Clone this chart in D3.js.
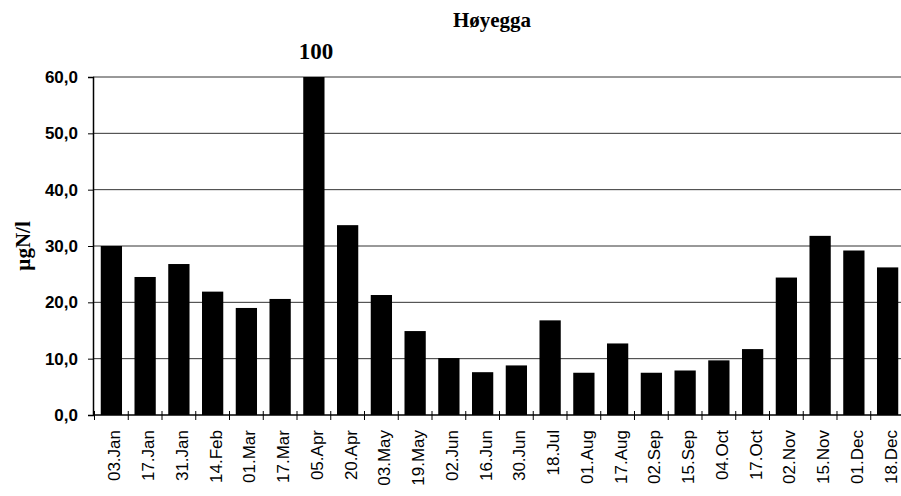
<!DOCTYPE html>
<html>
<head>
<meta charset="utf-8">
<script src="https://cdn.jsdelivr.net/npm/d3@7"></script>
<style>
  body { margin: 0; background: #fff; }
</style>
</head>
<body>
<div id="chart"></div>
<script>
const dates = ['03.Jan', '17.Jan', '31.Jan', '14.Feb', '01.Mar', '17.Mar', '05.Apr', '20.Apr',
    '03.May', '19.May', '02.Jun', '16.Jun', '30.Jun', '18.Jul', '01.Aug', '17.Aug',
    '02.Sep', '15.Sep', '04.Oct', '17.Oct', '02.Nov', '15.Nov', '01.Dec', '18.Dec']
const values = [30.0, 24.5, 26.8, 21.9, 19.0, 20.6, 100, 33.7,
    21.3, 14.9, 10.1, 7.6, 8.8, 16.8, 7.5, 12.7,
    7.5, 7.9, 9.7, 11.7, 24.4, 31.8, 29.2, 26.2]
const yTicks = [0, 10, 20, 30, 40, 50, 60]
const yMaxShown = 60

var margin = { top: 77, right: 0, bottom: 81, left: 93 },
    width = 812,
    height = 338;

var svg = d3.select('#chart').append('svg')
    .attr('width', 901)
    .attr('height', 496)
    .append('g')
    .attr('transform', 'translate(' + margin.left + ',' + margin.top + ')');

var x = d3.scaleBand().domain(dates).range([1, width]).paddingInner(0.37).paddingOuter(0.2);
var y = d3.scaleLinear().domain([0, yMaxShown]).range([height, 0]);

// gridlines
svg.append('g').selectAll('line')
    .data(yTicks.filter(d => d > 0))
    .enter().append('line')
    .attr('x1', 0).attr('x2', width)
    .attr('y1', d => y(d)).attr('y2', d => y(d))
    .attr('stroke', '#333').attr('stroke-width', 1);

// bars (clipped at the top of the axis)
svg.selectAll('.bar')
    .data(values)
    .enter().append('rect')
    .attr('x', (d, i) => x(dates[i]))
    .attr('y', d => y(Math.min(d, yMaxShown)))
    .attr('width', x.bandwidth())
    .attr('height', d => height - y(Math.min(d, yMaxShown)))
    .attr('fill', '#000');

// label for the value off the scale
values.forEach(function (d, i) {
    if (d > yMaxShown) {
        svg.append('text')
            .attr('x', x(dates[i]) + x.bandwidth() / 2 + 2)
            .attr('y', -18)
            .attr('text-anchor', 'middle')
            .attr('font-family', 'Liberation Serif, serif')
            .attr('font-weight', 'bold')
            .attr('font-size', '23px')
            .text(d);
    }
});

// y axis
var yAxis = svg.append('g')
    .call(d3.axisLeft(y).tickValues(yTicks).tickSize(5).tickPadding(10)
        .tickFormat(d => d3.format('.1f')(d).replace('.', ',')));
yAxis.select('.domain').attr('stroke', '#000').attr('stroke-width', 1.5);
yAxis.selectAll('text')
    .attr('font-family', 'Liberation Sans, Arial, sans-serif')
    .attr('font-weight', 'bold')
    .attr('font-size', '17px')
    .attr('fill', '#000');

// x axis: ticks between categories
var step = x.step();
var bounds = d3.range(dates.length + 1).map(i => x(dates[0]) - step * x.paddingInner() / 2 + i * step);
var xAxis = svg.append('g').attr('transform', 'translate(0,' + height + ')');
xAxis.append('line')
    .attr('x1', 0).attr('x2', width)
    .attr('stroke', '#000').attr('stroke-width', 1.5);
xAxis.selectAll('.tk')
    .data(bounds)
    .enter().append('line')
    .attr('x1', d => d).attr('x2', d => d)
    .attr('y1', -4).attr('y2', 5)
    .attr('stroke', '#000');
xAxis.selectAll('.lbl')
    .data(dates)
    .enter().append('text')
    .attr('transform', d => 'translate(' + (x(d) + x.bandwidth() / 2 + 9) + ',15) rotate(-90)')
    .attr('text-anchor', 'end')
    .attr('font-family', 'Liberation Sans, Arial, sans-serif')
    .attr('font-size', '17px')
    .attr('fill', '#000')
    .text(d => d);

// title
svg.append('text')
    .attr('x', 399)
    .attr('y', -50)
    .attr('text-anchor', 'middle')
    .attr('font-family', 'Liberation Serif, serif')
    .attr('font-weight', 'bold')
    .attr('font-size', '21px')
    .text('Høyegga');

// y label
svg.append('text')
    .attr('transform', 'translate(-63,' + (height / 2) + ') rotate(-90)')
    .attr('text-anchor', 'middle')
    .attr('font-family', 'Liberation Serif, serif')
    .attr('font-weight', 'bold')
    .attr('font-size', '21px')
    .text('µgN/l');
</script>
</body>
</html>
